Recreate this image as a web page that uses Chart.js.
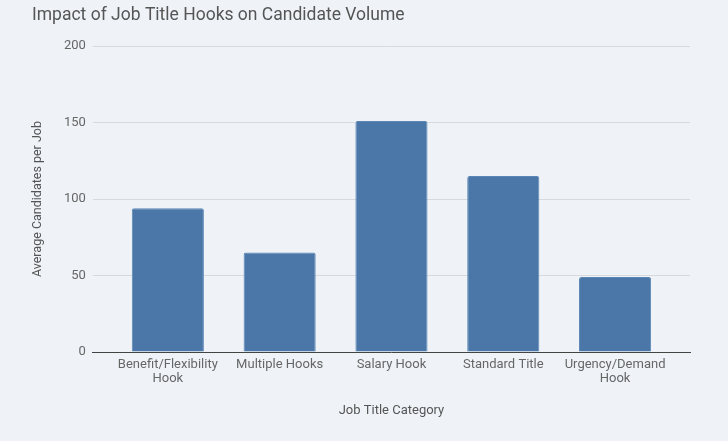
<!DOCTYPE html>
<html>
<head>
<meta charset="utf-8">
<script src="https://cdn.jsdelivr.net/npm/chart.js@4"></script>
<style>
html,body{margin:0;padding:0;background:#eff3f8;}
#wrap{width:728px;height:441px;position:relative;}
</style>
</head>
<body>
<div id="wrap"><canvas id="c" width="728" height="441"></canvas></div>
<script>
const categories = [["Benefit/Flexibility","Hook"], "Multiple Hooks", "Salary Hook", "Standard Title", ["Urgency/Demand","Hook"]];
const values = [94, 65, 151, 115, 49];
const yTicks = [0, 50, 100, 150, 200];

const points = values.map((v, i) => ({x: i, y: v}));

const shiftTitle = {
  id: 'shiftTitle',
  afterLayout(chart) {
    if (chart.titleBlock) { chart.titleBlock.left += 6; chart.titleBlock.right += 6; }
  }
};

new Chart(document.getElementById('c'), {
  type: 'bar',
  data: {
    datasets: [{
      data: points,
      backgroundColor: '#4a77a8',
      borderColor: '#5a86b5',
      borderWidth: 1,
      borderRadius: 2,
      borderSkipped: 'bottom',
      barPercentage: 0.645,
      categoryPercentage: 1
    }]
  },
  plugins: [shiftTitle],
  options: {
    responsive: false,
    animation: false,
    devicePixelRatio: 1,
    layout: {padding: {left: 26, right: 38, top: 5, bottom: 18}},
    plugins: {
      legend: {display: false},
      tooltip: {enabled: false},
      title: {
        display: true,
        text: 'Impact of Job Title Hooks on Candidate Volume',
        align: 'start',
        color: '#555555',
        font: {family: 'Roboto', size: 17.5, weight: 'normal'},
        padding: {top: 0, bottom: 20}
      }
    },
    scales: {
      x: {
        type: 'linear',
        offset: false,
        min: -0.67,
        max: 4.67,
        grid: {display: false, drawTicks: false},
        border: {display: true, color: '#444444', width: 1},
        ticks: {
          stepSize: 1,
          includeBounds: false,
          autoSkip: false,
          maxRotation: 0,
          padding: 6,
          color: '#666666',
          font: {family: 'Roboto', size: 13, lineHeight: 1.05},
          callback: (v) => Number.isInteger(v) && categories[v] !== undefined ? categories[v] : ''
        },
        title: {
          display: true,
          text: 'Job Title Category',
          color: '#555555',
          font: {family: 'Roboto', size: 13},
          padding: {top: 12}
        }
      },
      y: {
        min: 0,
        max: 200,
        afterBuildTicks: (axis) => { axis.ticks = yTicks.map(v => ({value: v})); },
        grid: {color: '#d6dadf', lineWidth: 1, drawTicks: false},
        border: {display: false},
        ticks: {
          padding: 7,
          color: '#666666',
          font: {family: 'Roboto', size: 13}
        },
        title: {
          display: true,
          text: 'Average Candidates per Job',
          color: '#555555',
          font: {family: 'Roboto', size: 12.5},
          padding: {bottom: 12}
        }
      }
    }
  }
});
</script>
</body>
</html>
